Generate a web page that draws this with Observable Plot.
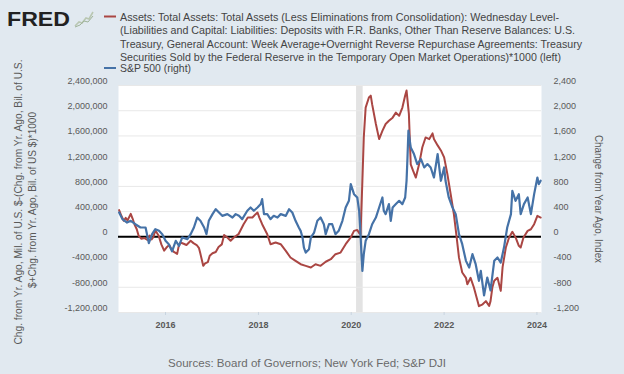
<!DOCTYPE html>
<html><head><meta charset="utf-8">
<script src="https://cdn.jsdelivr.net/npm/d3@7"></script>
<script src="https://cdn.jsdelivr.net/npm/@observablehq/plot@0.6"></script>
<style>
html,body{margin:0;padding:0;background:#e1e9f0;}
#wrap{position:relative;width:624px;height:374px;background:#e1e9f0;overflow:hidden;font-family:"Liberation Sans",Arial,sans-serif;}
#wrap > svg{position:absolute;left:0;top:0;}
</style></head><body><div id="wrap"></div>
<script>
// Assets minus (TGA + ON RRP), change from year ago, Mil. of U.S. $ (left axis)
const assetsDates = [2015.00,2015.05,2015.10,2015.14,2015.18,2015.25,2015.29,2015.33,2015.38,2015.42,2015.48,2015.55,2015.61,2015.66,2015.70,2015.74,2015.78,2015.85,2015.91,2015.97,
2016.02,2016.08,2016.13,2016.18,2016.25,2016.28,2016.32,2016.39,2016.45,2016.54,2016.60,2016.67,2016.72,2016.75,2016.81,2016.85,2016.91,2016.95,
2017.01,2017.08,2017.14,2017.21,2017.26,2017.33,2017.40,2017.47,2017.57,2017.68,2017.77,2017.87,2017.94,2017.98,
2018.02,2018.08,2018.19,2018.26,2018.37,2018.48,2018.59,2018.69,2018.80,2018.91,
2019.02,2019.13,2019.23,2019.34,2019.45,2019.56,2019.66,2019.77,2019.88,2019.99,
2020.06,2020.13,2020.17,2020.20,2020.24,2020.27,2020.31,2020.38,2020.42,2020.45,2020.53,2020.60,2020.67,2020.74,2020.81,2020.89,2020.96,
2021.03,2021.10,2021.16,2021.19,2021.24,2021.28,2021.33,2021.39,2021.46,2021.53,2021.60,2021.68,2021.75,2021.78,2021.86,2021.93,
2022.00,2022.07,2022.14,2022.21,2022.27,2022.32,2022.39,2022.47,2022.50,2022.57,2022.64,2022.72,2022.75,2022.83,2022.90,2022.97,
2023.00,2023.04,2023.08,2023.15,2023.22,2023.26,2023.33,2023.40,2023.47,2023.54,2023.61,2023.65,2023.71,2023.80,2023.87,2023.94,
2024.01,2024.08];
const assetsValues = [424000,330000,254000,300000,260000,365000,290000,200000,120000,16000,-30000,-20000,-50000,20000,-40000,0,100000,20000,-120000,-220000,
-170000,-130000,-200000,-240000,-270000,-160000,-90000,-110000,-130000,-63000,-100000,-130000,-180000,-270000,-460000,-420000,-400000,-300000,
-260000,-240000,-160000,-120000,30000,-10000,-63000,-10000,42000,200000,306000,306000,360000,386000,
306000,200000,42000,-117000,-90000,-117000,-222000,-328000,-381000,-434000,
-460000,-487000,-434000,-460000,-395000,-355000,-275000,-250000,-117000,-10000,
95000,110000,60000,42000,889000,1576000,2050000,2210000,2240000,2100000,1790000,1550000,1680000,1790000,1840000,1890000,1970000,
1920000,2050000,2240000,2320000,1950000,1150000,1050000,940000,1150000,1420000,1576000,1550000,1640000,1550000,1450000,1370000,
1260000,995000,680000,360000,-10000,-330000,-566000,-650000,-751000,-650000,-800000,-1016000,-1100000,-1070000,-1020000,-1095000,
-1020000,-800000,-698000,-650000,-857000,-480000,-170000,-10000,80000,-10000,-143000,-170000,-10000,95000,120000,200000,
333000,306000];

// S&P 500, change from year ago, index points (right axis)
const spxDates = [2015.00,2015.07,2015.17,2015.25,2015.35,2015.46,2015.57,2015.64,2015.71,2015.78,2015.86,2015.93,
2016.00,2016.07,2016.14,2016.22,2016.29,2016.36,2016.47,2016.54,2016.61,2016.68,2016.75,2016.83,2016.88,2016.93,
2017.01,2017.08,2017.15,2017.22,2017.33,2017.44,2017.51,2017.58,2017.65,2017.76,2017.83,2017.90,2017.98,
2018.05,2018.08,2018.12,2018.19,2018.26,2018.33,2018.41,2018.48,2018.59,2018.66,2018.73,2018.80,2018.87,2018.91,2018.95,2018.98,
2019.02,2019.09,2019.13,2019.20,2019.27,2019.34,2019.41,2019.45,2019.52,2019.59,2019.66,2019.73,2019.81,2019.88,2019.95,2019.99,
2020.06,2020.13,2020.17,2020.20,2020.22,2020.24,2020.27,2020.31,2020.38,2020.45,2020.53,2020.60,2020.67,2020.70,2020.74,2020.81,2020.85,2020.89,2020.96,
2021.03,2021.10,2021.16,2021.19,2021.21,2021.23,2021.28,2021.35,2021.42,2021.50,2021.57,2021.64,2021.71,2021.78,2021.86,2021.93,
2022.00,2022.03,2022.10,2022.18,2022.25,2022.32,2022.39,2022.47,2022.54,2022.61,2022.68,2022.75,2022.79,2022.86,2022.93,
2023.00,2023.08,2023.15,2023.22,2023.29,2023.36,2023.44,2023.47,2023.54,2023.61,2023.65,2023.72,2023.80,2023.87,2023.94,
2024.01,2024.04,2024.08];
const spxValues = [386,281,227,254,200,148,148,-100,42,122,95,42,
-63,-117,-230,-63,-143,-10,-37,42,148,306,254,148,42,254,
360,439,386,333,360,306,360,333,281,413,465,413,465,
519,598,360,360,281,333,306,360,333,439,386,254,148,95,-10,-170,
-250,-196,-10,68,254,306,200,42,200,200,42,95,254,465,571,836,
677,624,413,42,-275,-540,-275,-63,42,200,306,465,624,413,360,519,254,465,519,
571,519,624,889,1259,1683,1418,1312,1154,1233,1100,1154,1100,941,1313,889,
1100,889,624,465,360,42,-117,-381,-487,-275,-434,-698,-540,-930,-646,
-850,-381,-328,-408,-170,148,360,730,571,677,360,519,624,360,677,
941,836,889];

const gridTicks = [-1200000,-800000,-400000,0,400000,800000,1200000,1600000,2000000,2400000];
const xTickYears = [2016,2018,2020,2022,2024];
const recessionStarts = ["2020-02-12"];
const recessionEnds = ["2020-04-04"];

const legendLines = [
  "Assets: Total Assets: Total Assets (Less Eliminations from Consolidation): Wednesday Level-",
  "(Liabilities and Capital: Liabilities: Deposits with F.R. Banks, Other Than Reserve Balances: U.S.",
  "Treasury, General Account: Week Average+Overnight Reverse Repurchase Agreements: Treasury",
  "Securities Sold by the Federal Reserve in the Temporary Open Market Operations)*1000 (left)"
];
const legend2 = "S&P 500 (right)";
const leftTitle = ["Chg. from Yr. Ago, Mil. of U.S. $-(Chg. from Yr. Ago, Bil. of U.S.", "$+Chg. from Yr. Ago, Bil. of US $)*1000"];
const rightTitle = "Change from Year Ago, Index";
const sourceText = "Sources: Board of Governors; New York Fed; S&P DJI";

const toDate = y => { const Y = Math.floor(y + 1e-9); const s = Date.UTC(Y,0,1), e = Date.UTC(Y+1,0,1); return new Date(s + (y - Y) * (e - s)); };
const assets = assetsDates.map((d,i) => ({date: toDate(d), value: assetsValues[i]}));
const spx = spxDates.map((d,i) => ({date: toDate(d), value: spxValues[i] * 1000}));
const recessions = recessionStarts.map((s,i) => ({start: new Date(s), end: new Date(recessionEnds[i])}));
const xTicks = xTickYears.map(y => new Date(Date.UTC(y,0,1)));

const RED = "#aa4643", BLUE = "#4572a7";

const chart = Plot.plot({
  width: 624, height: 374,
  marginTop: 85, marginBottom: 62, marginLeft: 118, marginRight: 83,
  style: {background: "transparent", fontFamily: "'Liberation Sans', Arial, sans-serif", fontSize: "9px", color: "#595959"},
  x: {type: "utc", domain: [new Date("2014-12-27"), new Date("2024-02-06")]},
  y: {domain: [-1200000, 2400000]},
  marks: [
    Plot.frame({fill: "white", stroke: "none"}),
    Plot.rect(recessions, {x1: "start", x2: "end", fill: "#e3e3e3"}),
    Plot.ruleY(gridTicks.filter(v => v !== 0), {stroke: "#e8e8e8", strokeWidth: 1}),
    Plot.ruleY([0], {stroke: "#000", strokeWidth: 2}),
    Plot.line(assets, {x: "date", y: "value", stroke: RED, strokeWidth: 2}),
    Plot.line(spx, {x: "date", y: "value", stroke: BLUE, strokeWidth: 2.2}),
    Plot.axisY(gridTicks, {anchor: "left", tickSize: 0, tickPadding: 11, dy: -4.5, tickFormat: v => v.toLocaleString("en-US"), label: null}),
    Plot.axisY(gridTicks, {anchor: "right", tickSize: 0, tickPadding: 12, dy: -4.5, tickFormat: v => (v / 1000).toLocaleString("en-US"), label: null}),
    Plot.axisX(xTicks, {anchor: "bottom", tickSize: 3, tickPadding: 6, stroke: "#c9d4df", fill: "#595959", fontWeight: "bold", tickFormat: d3.utcFormat("%Y"), label: null})
  ]
});
const wrap = document.getElementById("wrap");
wrap.appendChild(chart);

// overlay for header, axis titles and caption
const ns = "http://www.w3.org/2000/svg";
const ov = document.createElementNS(ns, "svg");
ov.setAttribute("width", 624); ov.setAttribute("height", 374);
ov.style.fontFamily = "'Liberation Sans', Arial, sans-serif";
function txt(str, attrs) {
  const t = document.createElementNS(ns, "text");
  t.textContent = str;
  for (const k in attrs) t.setAttribute(k, attrs[k]);
  ov.appendChild(t);
  return t;
}
function path(d, attrs) {
  const p = document.createElementNS(ns, "path");
  p.setAttribute("d", d);
  for (const k in attrs) p.setAttribute(k, attrs[k]);
  ov.appendChild(p);
}
// FRED logo
txt("FRED", {x: 7, y: 18.5, "dominant-baseline": "central", "font-size": 21, "font-weight": 900, fill: "#222", textLength: 63, lengthAdjust: "spacingAndGlyphs"});
path("M75,26 L79,22 L82,23 L86,18 L89,19 L93,12", {fill: "none", stroke: "#b9c7b2", "stroke-width": 1.6});
path("M75,27 L80,25 L84,21 L88,22 L93,16", {fill: "none", stroke: "#9fb39a", "stroke-width": 1});
// legend
const legY = [16.5, 30, 43.5, 57];
const legEnds = [559, 575, 582, 561];
path("M104,16.5 H116", {stroke: RED, "stroke-width": 2});
legendLines.forEach((s, i) => txt(s, {x: 120, y: legY[i], "dominant-baseline": "central", "font-size": 10.5, fill: "#444", textLength: legEnds[i] - 120, lengthAdjust: "spacingAndGlyphs"}));
path("M104,68 H116", {stroke: BLUE, "stroke-width": 2});
txt(legend2, {x: 120, y: 68, "dominant-baseline": "central", "font-size": 10.5, fill: "#444", textLength: 71, lengthAdjust: "spacingAndGlyphs"});
// left axis title
txt(leftTitle[0], {x: 0, y: 0, transform: "translate(18,202) rotate(-90)", "text-anchor": "middle", "dominant-baseline": "central", "font-size": 10, fill: "#595959", textLength: 285, lengthAdjust: "spacingAndGlyphs"});
txt(leftTitle[1], {x: 0, y: 0, transform: "translate(32,200) rotate(-90)", "text-anchor": "middle", "dominant-baseline": "central", "font-size": 10, fill: "#595959", textLength: 176, lengthAdjust: "spacingAndGlyphs"});
// right axis title
txt(rightTitle, {x: 0, y: 0, transform: "translate(598,199) rotate(90)", "text-anchor": "middle", "dominant-baseline": "central", "font-size": 10, fill: "#595959", textLength: 128, lengthAdjust: "spacingAndGlyphs"});
// source
txt(sourceText, {x: 168, y: 363, "dominant-baseline": "central", "font-size": 11.5, fill: "#6b6b6b", textLength: 278, lengthAdjust: "spacingAndGlyphs"});
wrap.appendChild(ov);
</script>
</body></html>
